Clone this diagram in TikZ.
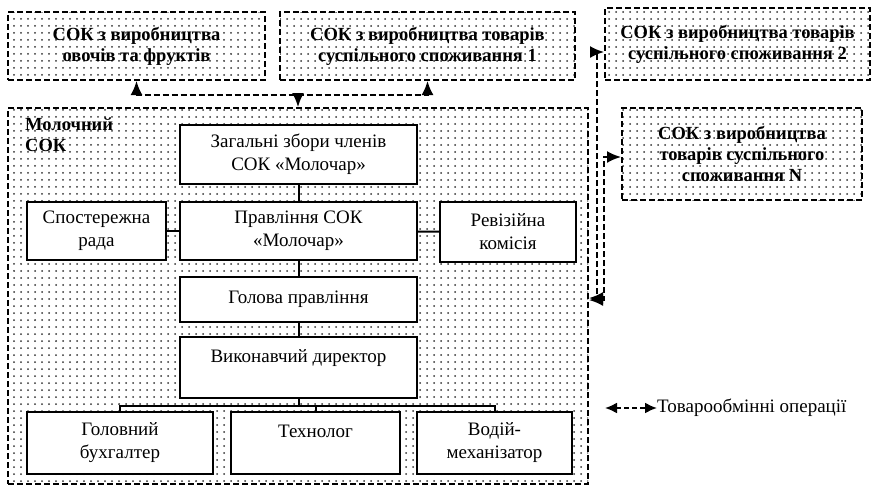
\documentclass[tikz,border=0pt]{standalone}
\usepackage{fontspec}
\setmainfont{Liberation Serif}
\usetikzlibrary{arrows.meta,patterns.meta}

\tikzdeclarepattern{
    name=scandots,
    type=uncolored,
    bounding box={(-1.5pt,-1.5pt) and (1.5pt,1.5pt)},
    tile size={(7pt,7pt)},
    code={\pgfpathcircle{\pgfpointorigin}{1pt}\pgfusepath{fill}}
}

\tikzset{
    extbox/.style={draw,line width=2pt,dash pattern=on 6pt off 3pt,
	pattern=scandots,pattern color=black!80,align=center,
	font=\fontsize{18.5}{21}\selectfont\bfseries,inner sep=0pt},
    orgbox/.style={draw,line width=2pt,fill=white,align=center,
	font=\fontsize{19}{23}\selectfont,inner sep=0pt},
    exch/.style={line width=2pt,dash pattern=on 6pt off 3pt,
	{Latex[length=14pt,width=12pt]}-{Latex[length=14pt,width=12pt]}},
    link/.style={line width=2pt}
}

\begin{document}
\begin{tikzpicture}[x=1pt,y=-1pt]
    \useasboundingbox (0,0) rectangle (873,488);
    % outer frame of the dairy cooperative
    \path (298,296) node [extbox,minimum width=580pt,minimum height=376pt]
	(main) {};
    \path (25,118) node [anchor=north west,align=left,inner sep=0pt,
	font=\fontsize{18.5}{21}\selectfont\bfseries]
	(mainlabel) {Молочний\\СОК};
    % partner cooperatives
    \path (136.5,46) node [extbox,minimum width=257pt,minimum height=68pt]
	(veg) {СОК з виробництва\\овочів та фруктів};
    \path (427.5,46) node [extbox,minimum width=295pt,minimum height=68pt]
	(goodsa) {СОК з виробництва товарів\\суспільного споживання 1};
    \path (737.5,44) node [extbox,minimum width=265pt,minimum height=72pt]
	(goodsb) {СОК з виробництва товарів\\суспільного споживання 2};
    \path (742,154) node [extbox,minimum width=240pt,minimum height=92pt]
	(goodsn) {СОК з виробництва\\товарів суспільного\\споживання N};
    % governing bodies
    \path (298.5,154.5) node [orgbox,minimum width=237pt,minimum height=59pt]
	(meeting) {Загальні збори членів\\СОК «Молочар»};
    \path (298.5,231) node [orgbox,minimum width=237pt,minimum height=58pt]
	(board) {Правління СОК\\«Молочар»};
    \path (96.5,231) node [orgbox,minimum width=139pt,minimum height=58pt]
	(council) {Спостережна\\рада};
    \path (508,232) node [orgbox,minimum width=136pt,minimum height=60pt]
	(audit) {Ревізійна\\комісія};
    \path (298.5,299.5) node [orgbox,minimum width=237pt,minimum height=45pt]
	(chair) {Голова правління};
    \path (298.5,367.5) node [orgbox,minimum width=237pt,minimum height=61pt]
	(director) {Виконавчий директор\\\phantom{В}};
    % staff
    \path (120,443) node [orgbox,minimum width=186pt,minimum height=62pt]
	(account) {Головний\\бухгалтер};
    \path (315.5,443) node [orgbox,minimum width=169pt,minimum height=62pt]
	(techno) {Технолог\\\phantom{Т}};
    \path (494.5,443) node [orgbox,minimum width=155pt,minimum height=62pt]
	(driver) {Водій-\\механізатор};
    \draw [link] (meeting) -- (board);
    \draw [link] (board) -- (chair);
    \draw [link] (chair) -- (director);
    \draw [link] (council) -- (board);
    \draw [link] (board) -- (audit);
    \coordinate (split) at (298.5,406);
    \draw [link] (director) -- (split);
    \draw [link] (account) |- (split) -| (driver);
    \draw [link] (techno) -- (techno |- split);
    % exchange of goods
    \coordinate (topjoin) at (298,95);
    \coordinate (rightjoin) at (597,298);
    \coordinate (rightjoinn) at (604,300);
    \draw [exch] (veg) |- (topjoin) -| (goodsa);
    \draw [exch,{Latex[length=14pt,width=12pt]}-] (main) -- (topjoin);
    \draw [exch] (main.east |- rightjoin) -- (rightjoin)
	|- ([yshift=-8pt]goodsb.west);
    \draw [exch] (main.east |- rightjoinn) -- (rightjoinn)
	|- ([yshift=-3pt]goodsn.west);
    % legend
    \coordinate (legstart) at (605,408);
    \path (657,408) node [anchor=west,inner sep=0pt,
	font=\fontsize{19}{22}\selectfont] (legend) {Товарообмінні операції};
    \draw [line width=2pt,dash pattern=on 5pt off 3pt,
	{Latex[length=12pt,width=11pt]}-{Latex[length=12pt,width=11pt]}]
	(legstart) -- (legend);
\end{tikzpicture}
\end{document}
